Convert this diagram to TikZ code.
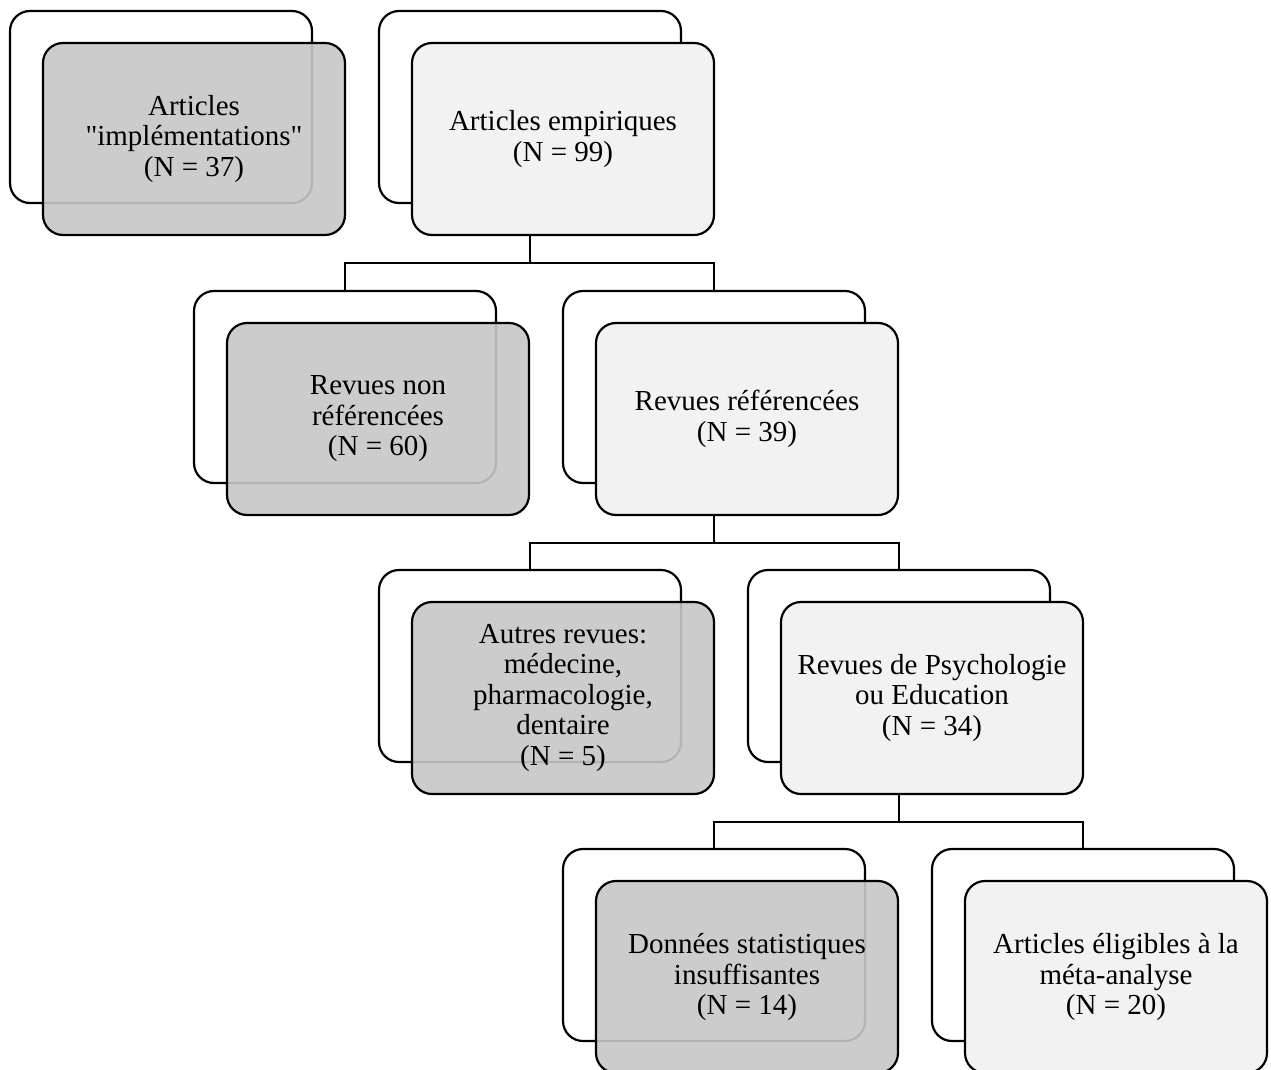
\documentclass[tikz,border=0pt]{standalone}
\usepackage{fontspec}
\setmainfont{Liberation Serif}[Ligatures=TeXOff]
\usetikzlibrary{calc}
\begin{document}
\begin{tikzpicture}[x=1pt,y=-1pt,
  boxbase/.style={rectangle,rounded corners=20pt,line width=2.2pt,draw=black,
    minimum width=302pt,minimum height=192pt,inner sep=0pt,outer sep=0pt},
  backbox/.style={boxbase,fill=white},
  lightbox/.style={boxbase,fill=black!5,align=center,
    font=\fontsize{29}{30.5}\selectfont},
  graybox/.style={boxbase,fill=black!22,fill opacity=0.9,text opacity=1,align=center,
    font=\fontsize{29}{30.5}\selectfont},
  conn/.style={line width=2.3pt,draw=black}]
\useasboundingbox (0,0) rectangle (1271,1070);
\clip (0,0) rectangle (1271,1070);

% back boxes (centres = top-left + (151,96)), front offset (+33,+32)
\node[backbox] (b1) at (161,107) {};
\node[graybox] (f1) at (194,139) {Articles\\"implémentations"\\(N = 37)};

\node[backbox] (b2) at (530,107) {};
\node[lightbox] (f2) at (563,139) {Articles empiriques\\(N = 99)};

\node[backbox] (b3) at (345,387) {};
\node[graybox] (f3) at (378,419) {Revues non\\référencées\\(N = 60)};

\node[backbox] (b4) at (714,387) {};
\node[lightbox] (f4) at (747,419) {Revues référencées\\(N = 39)};

\node[backbox] (b5) at (530,666) {};
\node[graybox] (f5) at (563,698) {Autres revues:\\médecine,\\pharmacologie,\\dentaire\\(N = 5)};

\node[backbox] (b6) at (899,666) {};
\node[lightbox] (f6) at (932,698) {Revues de Psychologie\\ou Education\\(N = 34)};

\node[backbox] (b7) at (714,945) {};
\node[graybox] (f7) at (747,977) {Données statistiques\\insuffisantes\\(N = 14)};

\node[backbox] (b8) at (1083,945) {};
\node[lightbox] (f8) at (1116,977) {Articles éligibles à la\\méta-analyse\\(N = 20)};

% connectors
\draw[conn] (b2.center |- f2.south) -- ++(0,28) coordinate (j1);
\draw[conn] (b3.north) |- (j1) -| (b4.north);
\draw[conn] (b4.center |- f4.south) -- ++(0,28) coordinate (j2);
\draw[conn] (b5.north) |- (j2) -| (b6.north);
\draw[conn] (b6.center |- f6.south) -- ++(0,28) coordinate (j3);
\draw[conn] (b7.north) |- (j3) -| (b8.north);
\end{tikzpicture}
\end{document}
